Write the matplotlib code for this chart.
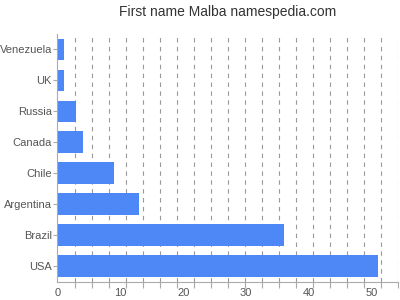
import numpy as np
import matplotlib.pyplot as plt

countries = ["USA", "Brazil", "Argentina", "Chile", "Canada", "Russia", "UK", "Venezuela"]
counts = [51, 36, 13, 9, 4, 3, 1, 1]
xticks = [0, 10, 20, 30, 40, 50]

plt.rcParams['font.family'] = ['Liberation Sans', 'DejaVu Sans']

fig = plt.figure(figsize=(4, 3), dpi=100)
ax = fig.add_axes([57.5 / 400, (300 - 281.5) / 300, (398 - 57.5) / 400, (281.5 - 34) / 300])

ypos = np.arange(len(countries))
ax.barh(ypos, counts, height=0.7, color="#4e88f7", zorder=2)

xmax = 54.2
ax.set_xlim(0, xmax)
ax.set_ylim(-0.5, len(countries) - 0.5)

# dashed grid every 1/20 of the axis, ticks only under it
grid = np.linspace(0, xmax, 21)
ax.set_xticks(grid[1:], minor=True)
ax.set_xticks(xticks)
ax.grid(axis="x", which="minor", color="#999999", linestyle=(0, (4, 4)), linewidth=0.8, zorder=1)
ax.tick_params(axis="x", which="major", length=0, pad=5, labelsize=8, labelcolor="#555555")
ax.tick_params(axis="x", which="minor", length=4, color="#aaaaaa", width=0.8)
ax.set_yticks(ypos)
ax.set_yticklabels(countries)
ax.tick_params(axis="y", length=3, color="#aaaaaa", width=0.8, pad=1, labelsize=8, labelcolor="#555555")

for s in ["top", "right"]:
    ax.spines[s].set_visible(False)
for s in ["left", "bottom"]:
    ax.spines[s].set_color("#aaaaaa")
    ax.spines[s].set_linewidth(0.8)

fig.text(0.57, 0.96, "First name Malba namespedia.com", ha="center", va="center",
         fontsize=10, color="#333333")

fig.savefig("out.png")
